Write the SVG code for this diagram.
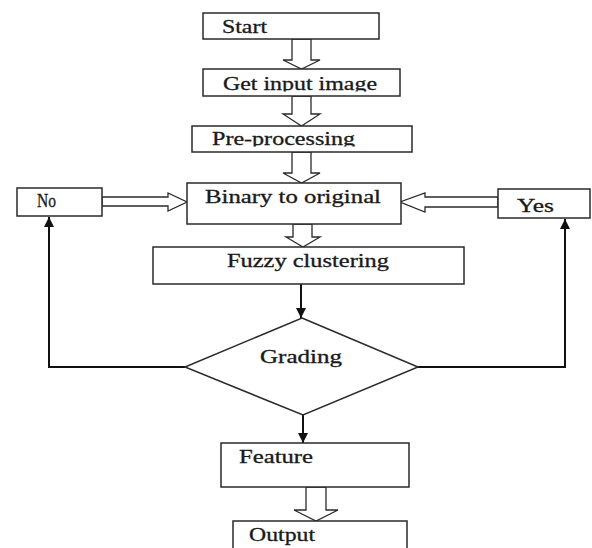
<svg xmlns="http://www.w3.org/2000/svg" width="592" height="548" viewBox="0 0 592 548">
<defs>
<style>
.box{fill:#fff;stroke:#2a2a2a;stroke-width:1.5}
.hollow{fill:#fff;stroke:#2a2a2a;stroke-width:1.3;stroke-linejoin:miter}
.line{fill:none;stroke:#111;stroke-width:2}
.t{font-family:"Liberation Serif","Times New Roman",serif;font-size:18px;fill:#1a1a1a;stroke:#1a1a1a;stroke-width:0.3}
</style>
<marker id="ah" viewBox="0 0 10 10" refX="10" refY="5" markerWidth="5" markerHeight="5" orient="auto" markerUnits="strokeWidth">
<path d="M0,0 L10,5 L0,10 Z" fill="#111"/>
</marker>
<clipPath id="clipGet"><rect x="203" y="69" width="197" height="22.5"/></clipPath>
<clipPath id="clipPre"><rect x="192" y="126" width="220" height="20.5"/></clipPath>
</defs>
<rect width="592" height="548" fill="#fff"/>

<g id="connectors">
<polygon class="hollow" points="292,39 311,39 311,60 320,60 301.5,69 283,60 292,60"/>
<polygon class="hollow" points="292,96 311,96 311,114 320,114 301.5,126 283,114 292,114"/>
<polygon class="hollow" points="292,152 311,152 311,173 320,173 301.5,183 283,173 292,173"/>
<polygon class="hollow" points="293,224 312,224 312,237 320,237 303,247 286,237 293,237"/>
<polygon class="hollow" points="306,487 326,487 326,510 338,510 316,521 294,510 306,510"/>
<polygon class="hollow" points="102,197 168,197 168,193 187,202 168,211 168,206 102,206"/>
<polygon class="hollow" points="498,197 425,197 425,193 400,202 425,212 425,207 498,207"/>
<line class="line" x1="301" y1="284" x2="301" y2="318" marker-end="url(#ah)"/>
<line class="line" x1="303" y1="415" x2="303" y2="443" marker-end="url(#ah)"/>
<polyline class="line" points="185,367 49,367 49,217" marker-end="url(#ah)"/>
<polyline class="line" points="418,367 565,367 565,219" marker-end="url(#ah)"/>
</g>

<g id="start">
<rect class="box" x="203" y="13" width="176" height="26"/>
<text class="t" x="222" y="33" font-size="16" textLength="45" lengthAdjust="spacingAndGlyphs">Start</text>
</g>
<g id="get-input">
<rect class="box" x="203" y="69" width="197" height="27"/>
<text class="t" x="223" y="90" clip-path="url(#clipGet)" textLength="154" lengthAdjust="spacingAndGlyphs">Get input image</text>
</g>
<g id="pre-processing">
<rect class="box" x="192" y="126" width="220" height="26"/>
<text class="t" x="212" y="145" font-size="17" clip-path="url(#clipPre)" textLength="143" lengthAdjust="spacingAndGlyphs">Pre-processing</text>
</g>
<g id="binary">
<rect class="box" x="187" y="183" width="214" height="41"/>
<text class="t" x="205" y="203" textLength="176" lengthAdjust="spacingAndGlyphs">Binary to original</text>
</g>
<g id="no">
<rect class="box" x="17" y="188" width="85" height="28"/>
<text class="t" x="37" y="207" font-size="15" textLength="19" lengthAdjust="spacingAndGlyphs">No</text>
</g>
<g id="yes">
<rect class="box" x="498" y="189" width="92" height="29"/>
<text class="t" x="517" y="212" font-size="17" textLength="37" lengthAdjust="spacingAndGlyphs">Yes</text>
</g>
<g id="fuzzy">
<rect class="box" x="153" y="247" width="311" height="37"/>
<text class="t" x="227" y="267" textLength="162" lengthAdjust="spacingAndGlyphs">Fuzzy clustering</text>
</g>
<g id="grading">
<polygon class="box" points="302,318 418,367 303,415 185,367"/>
<text class="t" x="260" y="363" textLength="82" lengthAdjust="spacingAndGlyphs">Grading</text>
</g>
<g id="feature">
<rect class="box" x="221" y="443" width="188" height="44"/>
<text class="t" x="239" y="463" textLength="74" lengthAdjust="spacingAndGlyphs">Feature</text>
</g>
<g id="output">
<rect class="box" x="233" y="521" width="174" height="30"/>
<text class="t" x="249" y="541" textLength="66" lengthAdjust="spacingAndGlyphs">Output</text>
</g>
</svg>
